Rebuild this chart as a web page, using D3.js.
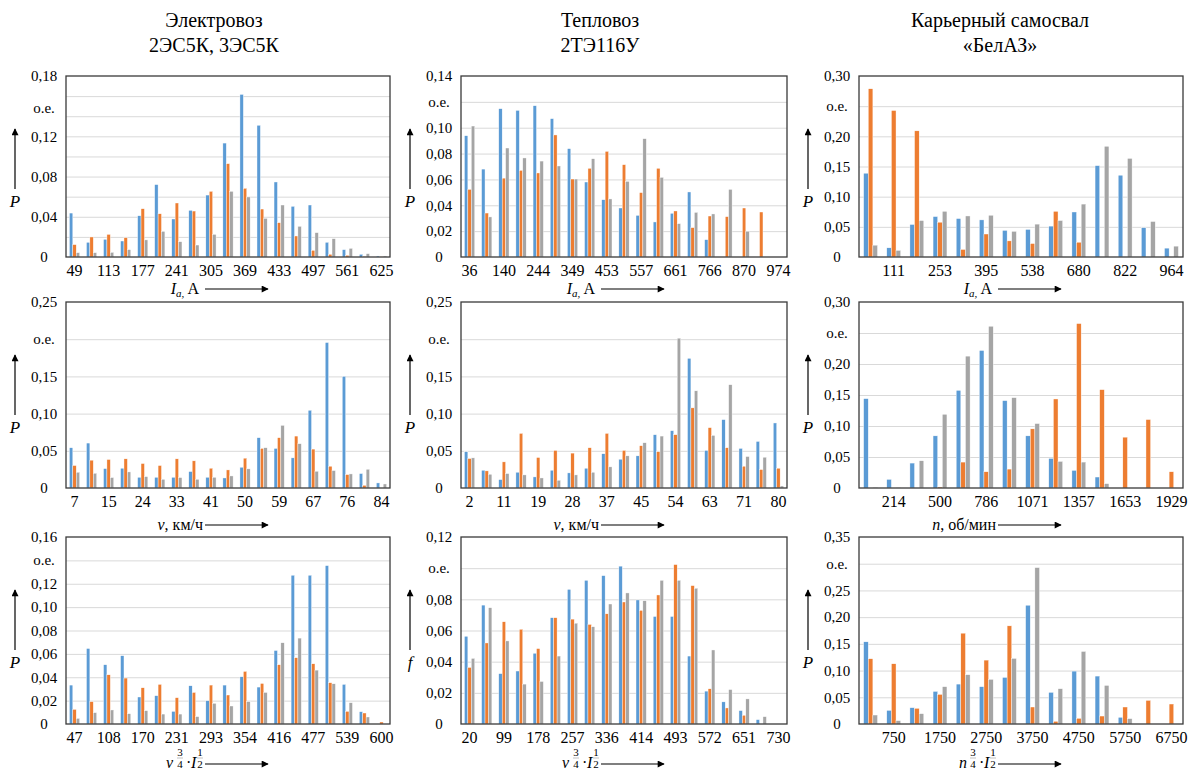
<!DOCTYPE html>
<html>
<head>
<meta charset="utf-8">
<script src="https://cdn.jsdelivr.net/npm/d3@7"></script>
<style>
  body { margin: 0; background: #fff; }
  svg, svg text { font-family: "Liberation Serif", "Times New Roman", serif; }
</style>
</head>
<body>
<svg id="chart" width="1195" height="774"></svg>
<script>
// series colours: blue, orange, gray
const colors = ['#5b9bd5', '#ed7d31', '#a5a5a5'];

const titles = [['Электровоз', '2ЭС5К, 3ЭС5К'], ['Тепловоз', '2ТЭ116У'], ['Карьерный самосвал', '«БелАЗ»']];

// row 1 - current Ia
const p1Cats = [49, 81, 113, 145, 177, 209, 241, 273, 305, 337, 369, 401, 433, 465, 497, 529, 561, 593, 625];
const p1Ticks = [49, 113, 177, 241, 305, 369, 433, 497, 561, 625];
const p1Blue = [0.0437, 0.0146, 0.0176, 0.0159, 0.041, 0.072, 0.0378, 0.0464, 0.0616, 0.1133, 0.1617, 0.131, 0.0746, 0.0504, 0.0517, 0.0146, 0.0073, 0.0027, 0.001];
const p1Orange = [0.0123, 0.0199, 0.0225, 0.0192, 0.048, 0.043, 0.0537, 0.0457, 0.0653, 0.0928, 0.0683, 0.0477, 0.0341, 0.0209, 0.0066, 0.0027, 0.0017, 0.0005, 0.0003];
const p1Gray = [0.0043, 0.0043, 0.0046, 0.0073, 0.017, 0.0255, 0.0152, 0.0119, 0.0225, 0.0653, 0.0597, 0.0384, 0.0517, 0.0305, 0.0242, 0.0182, 0.0086, 0.0033, 0.001];
const p1YTicks = [0, 0.04, 0.08, 0.12, 0.18];

const p2Cats = [36, 88, 140, 192, 244, 297, 349, 401, 453, 505, 557, 609, 661, 713, 766, 818, 870, 922, 974];
const p2Ticks = [36, 140, 244, 349, 453, 557, 661, 766, 870, 974];
const p2Blue = [0.0938, 0.068, 0.1147, 0.1134, 0.117, 0.107, 0.0838, 0.058, 0.0443, 0.0379, 0.0322, 0.0271, 0.0338, 0.0503, 0.0134, 0, 0, 0, 0];
const p2Orange = [0.0523, 0.034, 0.061, 0.067, 0.065, 0.0944, 0.0603, 0.0686, 0.0817, 0.0714, 0.0498, 0.0686, 0.0356, 0.0227, 0.0317, 0.0312, 0.0379, 0.0348, 0];
const p2Gray = [0.1013, 0.031, 0.0843, 0.0766, 0.0742, 0.0704, 0.0603, 0.076, 0.0449, 0.0585, 0.0915, 0.0616, 0.0258, 0.0345, 0.0333, 0.0523, 0.0199, 0, 0];
const p2YTicks = [0, 0.02, 0.04, 0.06, 0.08, 0.10, 0.14];

const p3Cats = [40, 111, 182, 253, 324, 395, 466, 538, 609, 680, 751, 822, 893, 964];
const p3Ticks = [111, 253, 395, 538, 680, 822, 964];
const p3Blue = [0.1389, 0.0152, 0.0539, 0.067, 0.0637, 0.0615, 0.0441, 0.0457, 0.0512, 0.0746, 0.1514, 0.1356, 0.0485, 0.0147];
const p3Orange = [0.2788, 0.2428, 0.2091, 0.0577, 0.0125, 0.0381, 0.0267, 0.0223, 0.0757, 0.0245, 0, 0, 0, 0];
const p3Gray = [0.0196, 0.0109, 0.0604, 0.0757, 0.068, 0.0692, 0.0425, 0.0545, 0.0604, 0.0877, 0.1835, 0.1634, 0.0588, 0.018];
const p3YTicks = [0, 0.05, 0.10, 0.15, 0.20, 0.30];

// row 2 - speed
const p4Cats = [7, 11, 15, 20, 24, 28, 33, 37, 41, 46, 50, 54, 59, 63, 67, 71, 76, 80, 84];
const p4Ticks = [7, 15, 24, 33, 41, 50, 59, 67, 76, 84];
const p4Blue = [0.0541, 0.0604, 0.0261, 0.0266, 0.0144, 0.0144, 0.0144, 0.0221, 0.0144, 0.0135, 0.0279, 0.0676, 0.0532, 0.0405, 0.1045, 0.1955, 0.15, 0.0194, 0.0068];
const p4Orange = [0.0302, 0.0374, 0.0383, 0.0392, 0.0329, 0.0302, 0.0392, 0.0365, 0.0266, 0.0243, 0.0401, 0.0532, 0.0676, 0.0698, 0.0523, 0.0293, 0.018, 0.0036, 0];
const p4Gray = [0.0212, 0.0198, 0.014, 0.0216, 0.0153, 0.0117, 0.014, 0.0117, 0.0144, 0.0162, 0.0257, 0.0541, 0.0842, 0.0595, 0.0225, 0.0234, 0.0189, 0.0252, 0.0054];
const p4YTicks = [0, 0.05, 0.10, 0.15, 0.25];

const p5Cats = [2, 6, 11, 15, 19, 24, 28, 32, 37, 41, 45, 50, 54, 58, 63, 67, 71, 76, 80];
const p5Ticks = [2, 11, 19, 28, 37, 45, 54, 63, 71, 80];
const p5Blue = [0.0487, 0.0239, 0.0113, 0.0212, 0.0149, 0.0239, 0.0203, 0.0266, 0.046, 0.0387, 0.0432, 0.0716, 0.077, 0.1743, 0.0505, 0.0919, 0.0532, 0.0626, 0.0874];
const p5Orange = [0.0396, 0.023, 0.0351, 0.0734, 0.041, 0.0505, 0.0469, 0.0541, 0.0734, 0.0505, 0.0568, 0.0487, 0.0716, 0.1077, 0.0811, 0.0541, 0.0293, 0.0248, 0.0266];
const p5Gray = [0.0405, 0.0185, 0.0194, 0.0176, 0.0135, 0.0104, 0.0176, 0.0212, 0.0284, 0.0432, 0.0608, 0.0698, 0.2014, 0.1306, 0.0707, 0.1388, 0.0423, 0.0414, 0.0027];
const p5YTicks = [0, 0.05, 0.10, 0.15, 0.25];

const p6Cats = [71, 214, 357, 500, 643, 786, 928, 1071, 1214, 1357, 1500, 1653, 1786, 1929];
const p6Ticks = [214, 500, 786, 1071, 1357, 1653, 1929];
const p6Blue = [0.1441, 0.0139, 0.0402, 0.0841, 0.1575, 0.2218, 0.1409, 0.0841, 0.0477, 0.0284, 0.0177, 0, 0, 0];
const p6Orange = [0, 0, 0, 0.0016, 0.0418, 0.0262, 0.0305, 0.0954, 0.1436, 0.2652, 0.1586, 0.082, 0.1104, 0.0262];
const p6Gray = [0.001, 0.0005, 0.0439, 0.1189, 0.2127, 0.2609, 0.1457, 0.1039, 0.0429, 0.0418, 0.007, 0, 0, 0];
const p6YTicks = [0, 0.05, 0.10, 0.15, 0.20, 0.30];

// row 3 - v^(3/4)*I^(1/2)
const p7Cats = [47, 78, 108, 139, 170, 201, 231, 262, 293, 323, 354, 385, 416, 446, 477, 508, 539, 570, 600];
const p7Ticks = [47, 108, 170, 231, 293, 354, 416, 477, 539, 600];
const p7Blue = [0.0333, 0.0646, 0.0507, 0.0584, 0.0231, 0.0242, 0.0108, 0.0327, 0.0199, 0.0333, 0.0404, 0.0316, 0.0629, 0.1273, 0.1273, 0.1355, 0.0339, 0.0105, 0];
const p7Orange = [0.0125, 0.0191, 0.0421, 0.0393, 0.031, 0.0339, 0.0225, 0.027, 0.0333, 0.0248, 0.045, 0.0347, 0.0507, 0.0567, 0.0515, 0.0353, 0.0108, 0.0094, 0.0017];
const p7Gray = [0.0048, 0.0097, 0.012, 0.0088, 0.0114, 0.0085, 0.0085, 0.0063, 0.0177, 0.0154, 0.0191, 0.027, 0.0695, 0.0735, 0.0461, 0.0344, 0.0182, 0.006, 0];
const p7YTicks = [0, 0.02, 0.04, 0.06, 0.08, 0.10, 0.12, 0.16];

const p8Cats = [20, 59, 99, 138, 178, 217, 257, 296, 336, 375, 414, 454, 493, 533, 572, 612, 651, 690, 730];
const p8Ticks = [20, 99, 178, 257, 336, 414, 493, 572, 651, 730];
const p8Blue = [0.0563, 0.0763, 0.0323, 0.034, 0.0454, 0.0682, 0.0864, 0.0922, 0.0952, 0.1013, 0.0796, 0.069, 0.069, 0.0436, 0.0211, 0.0142, 0.0086, 0.0028, 0];
const p8Orange = [0.0363, 0.052, 0.0656, 0.0608, 0.0484, 0.0682, 0.0673, 0.0639, 0.0707, 0.0783, 0.0729, 0.0828, 0.1023, 0.0888, 0.0226, 0.0103, 0.0056, 0, 0];
const p8Gray = [0.0421, 0.0746, 0.0533, 0.0256, 0.0273, 0.0436, 0.0647, 0.0624, 0.077, 0.0841, 0.0791, 0.0922, 0.0922, 0.0871, 0.0475, 0.0221, 0.0161, 0.0047, 0];
const p8YTicks = [0, 0.02, 0.04, 0.06, 0.08, 0.12];

const p9Cats = [250, 750, 1250, 1750, 2250, 2750, 3250, 3750, 4250, 4750, 5250, 5750, 6250, 6750];
const p9Ticks = [750, 1750, 2750, 3750, 4750, 5750, 6750];
const p9Blue = [0.1538, 0.0255, 0.0305, 0.061, 0.0747, 0.0698, 0.0872, 0.2223, 0.0592, 0.099, 0.0897, 0.0125, 0, 0];
const p9Orange = [0.1221, 0.1127, 0.0293, 0.0554, 0.17, 0.1196, 0.1837, 0.0318, 0.005, 0.0106, 0.0149, 0.0318, 0.0442, 0.0374];
const p9Gray = [0.0168, 0.0062, 0.0193, 0.0698, 0.0922, 0.0835, 0.1227, 0.2927, 0.066, 0.1358, 0.0722, 0.01, 0, 0];
const p9YTicks = [0, 0.05, 0.10, 0.15, 0.20, 0.25, 0.35];

// layout of the 3x3 grid
const cols = [[66, 390], [461, 787], [859, 1183]];
const rows = [[76, 257], [302, 488], [537, 724]];

const panels = [
  { col: 0, row: 0, cats: p1Cats, ticks: p1Ticks, series: [p1Blue, p1Orange, p1Gray], yMax: 0.18, step: 0.02, yTicks: p1YTicks, oe: 0.148, yName: 'P' },
  { col: 1, row: 0, cats: p2Cats, ticks: p2Ticks, series: [p2Blue, p2Orange, p2Gray], yMax: 0.14, step: 0.02, yTicks: p2YTicks, oe: 0.12, yName: 'P' },
  { col: 2, row: 0, cats: p3Cats, ticks: p3Ticks, series: [p3Blue, p3Orange, p3Gray], yMax: 0.30, step: 0.05, yTicks: p3YTicks, oe: 0.25, yName: 'P' },
  { col: 0, row: 1, cats: p4Cats, ticks: p4Ticks, series: [p4Blue, p4Orange, p4Gray], yMax: 0.25, step: 0.05, yTicks: p4YTicks, oe: 0.20, yName: 'P' },
  { col: 1, row: 1, cats: p5Cats, ticks: p5Ticks, series: [p5Blue, p5Orange, p5Gray], yMax: 0.25, step: 0.05, yTicks: p5YTicks, oe: 0.20, yName: 'P' },
  { col: 2, row: 1, cats: p6Cats, ticks: p6Ticks, series: [p6Blue, p6Orange, p6Gray], yMax: 0.30, step: 0.05, yTicks: p6YTicks, oe: 0.25, yName: 'P' },
  { col: 0, row: 2, cats: p7Cats, ticks: p7Ticks, series: [p7Blue, p7Orange, p7Gray], yMax: 0.16, step: 0.02, yTicks: p7YTicks, oe: 0.14, yName: 'P' },
  { col: 1, row: 2, cats: p8Cats, ticks: p8Ticks, series: [p8Blue, p8Orange, p8Gray], yMax: 0.12, step: 0.02, yTicks: p8YTicks, oe: 0.10, yName: 'f' },
  { col: 2, row: 2, cats: p9Cats, ticks: p9Ticks, series: [p9Blue, p9Orange, p9Gray], yMax: 0.35, step: 0.05, yTicks: p9YTicks, oe: 0.30, yName: 'P' }
];

const serif = 'Liberation Serif, Times New Roman, serif';
const svg = d3.select('#chart');

svg.append('defs').append('marker')
  .attr('id', 'arrow')
  .attr('viewBox', '0 0 10 10')
  .attr('refX', 9).attr('refY', 5)
  .attr('markerUnits', 'userSpaceOnUse')
  .attr('markerWidth', 9).attr('markerHeight', 7)
  .attr('orient', 'auto')
  .append('path')
  .attr('d', 'M0,0 L10,5 L0,10 z')
  .attr('fill', '#000');

const fmt = (v) => v === 0 ? '0' : d3.format('.2f')(v).replace('.', ',');

function drawPanel(p) {
  const [x0, x1] = cols[p.col];
  const [y0, y1] = rows[p.row];

  const x = d3.scaleBand().domain(p.cats).range([x0, x1]);
  const sub = d3.scaleBand().domain([0, 1, 2])
    .range([x.bandwidth() * 0.2, x.bandwidth() * 0.8]);
  const y = d3.scaleLinear().domain([0, p.yMax]).range([y1, y0]);

  const g = svg.append('g');

  // gridlines
  const n = Math.round(p.yMax / p.step);
  g.append('g')
    .attr('transform', `translate(${x0},0)`)
    .call(d3.axisLeft(y).tickValues(d3.range(1, n).map((i) => i * p.step)).tickSize(-(x1 - x0)).tickFormat(''))
    .call((a) => a.select('.domain').remove())
    .selectAll('line').attr('stroke', '#d9d9d9').attr('stroke-width', 1);

  // bars
  p.series.forEach((vals, si) => {
    g.append('g').selectAll('rect')
      .data(vals)
      .join('rect')
      .attr('x', (d, i) => x(p.cats[i]) + sub(si))
      .attr('y', (d) => y(d))
      .attr('width', sub.bandwidth())
      .attr('height', (d) => y1 - y(d))
      .attr('fill', colors[si])
      .attr('stroke', '#fff')
      .attr('stroke-width', 0.4);
  });

  // frame
  g.append('rect')
    .attr('x', x0).attr('y', y0)
    .attr('width', x1 - x0).attr('height', y1 - y0)
    .attr('fill', 'none').attr('stroke', '#3a3a3a').attr('stroke-width', 1.3);

  // y axis labels
  const ya = g.append('g')
    .attr('transform', `translate(${x0},0)`)
    .call(d3.axisLeft(y).tickValues(p.yTicks).tickSize(0).tickPadding(22).tickFormat(fmt));
  ya.attr('font-family', null).attr('font-size', null);
  ya.select('.domain').remove();
  ya.selectAll('text')
    .attr('text-anchor', 'middle')
    .style('font-family', serif)
    .style('font-size', '15px').attr('fill', '#000');

  g.append('text')
    .attr('x', x0 - 22).attr('y', y(p.oe)).attr('dy', '0.32em')
    .attr('text-anchor', 'middle')
    .style('font-family', serif)
    .style('font-size', '15px')
    .text('о.е.');

  // x axis labels
  const xa = g.append('g')
    .attr('transform', `translate(0,${y1})`)
    .call(d3.axisBottom(x).tickValues(p.ticks).tickSize(0).tickPadding(8));
  xa.attr('font-family', null).attr('font-size', null);
  xa.select('.domain').remove();
  xa.selectAll('text')
    .style('font-family', serif)
    .style('font-size', '16px').attr('fill', '#000');

  // y axis name with arrow
  const ax = x0 - 51;
  const tip = y0 + 53;
  g.append('line')
    .attr('x1', ax).attr('x2', ax)
    .attr('y1', tip + 60).attr('y2', tip)
    .attr('stroke', '#000').attr('stroke-width', 1.2)
    .attr('marker-end', 'url(#arrow)');
  g.append('text')
    .attr('x', ax).attr('y', tip + 72).attr('dy', '0.35em')
    .attr('text-anchor', 'middle')
    .attr('font-style', 'italic')
    .attr('font-size', 17)
    .text(p.yName);
}

panels.forEach(drawPanel);

// column titles
titles.forEach((t, i) => {
  const cx = [214, 600, 1000][i];
  t.forEach((line, j) => {
    svg.append('text')
      .attr('x', cx).attr('y', 27 + j * 25)
      .attr('text-anchor', 'middle')
      .attr('font-size', 20)
      .text(line);
  });
});

// x axis names with arrows
function hArrow(cx, yy) {
  svg.append('line')
    .attr('x1', cx - 23).attr('x2', cx + 40)
    .attr('y1', yy).attr('y2', yy)
    .attr('stroke', '#000').attr('stroke-width', 1.2)
    .attr('marker-end', 'url(#arrow)');
}

cols.forEach(([x0, x1], c) => {
  const cx = (x0 + x1) / 2;

  // row 1: Ia, A
  hArrow(cx, 289);
  const t1 = svg.append('text')
    .attr('x', cx - 29).attr('y', 294)
    .attr('text-anchor', 'end').attr('font-size', 16);
  t1.append('tspan').attr('font-style', 'italic').text('I');
  t1.append('tspan').attr('font-style', 'italic').attr('font-size', 11).attr('dy', 3).text('a,');
  t1.append('tspan').attr('dy', -3).text(' A');

  // row 2: v, km/h  or n, rpm
  hArrow(cx, 525);
  const t2 = svg.append('text')
    .attr('x', cx - 25).attr('y', 530)
    .attr('text-anchor', 'end').attr('font-size', 16);
  t2.append('tspan').attr('font-style', 'italic').text(c === 2 ? 'n' : 'v');
  t2.append('tspan').text(c === 2 ? ', об/мин' : ', км/ч');

  // row 3: v^(3/4)·I^(1/2)
  hArrow(cx, 764);
  const sx = cx - 62;
  const fr = svg.append('g').attr('font-size', 16);
  fr.append('text').attr('x', sx).attr('y', 768).attr('font-style', 'italic').text(c === 2 ? 'n' : 'v');
  [[sx + 14, '3', '4'], [sx + 34, '1', '2']].forEach(([fx, a, b]) => {
    fr.append('text').attr('x', fx).attr('y', 756).attr('text-anchor', 'middle').attr('font-size', 11).text(a);
    fr.append('line').attr('x1', fx - 3).attr('x2', fx + 3).attr('y1', 758).attr('y2', 758)
      .attr('stroke', '#999').attr('stroke-width', 0.6);
    fr.append('text').attr('x', fx).attr('y', 768).attr('text-anchor', 'middle').attr('font-size', 11).text(b);
  });
  fr.append('text').attr('x', sx + 20).attr('y', 768).text('·');
  fr.append('text').attr('x', sx + 25).attr('y', 768).attr('font-style', 'italic').text('I');
});
</script>
</body>
</html>
